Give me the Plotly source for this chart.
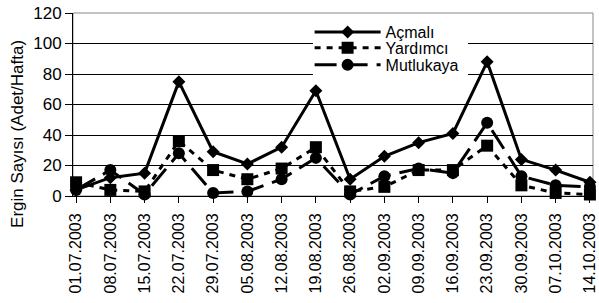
import plotly.graph_objects as go

dates = ["01.07.2003", "08.07.2003", "15.07.2003", "22.07.2003", "29.07.2003",
         "05.08.2003", "12.08.2003", "19.08.2003", "26.08.2003", "02.09.2003",
         "09.09.2003", "16.09.2003", "23.09.2003", "30.09.2003", "07.10.2003",
         "14.10.2003"]
acmali = [4, 12, 15, 75, 29, 21, 32, 69, 11, 26, 35, 41, 88, 24, 17, 9]
yardimci = [9, 4, 3, 36, 17, 11, 18, 32, 3, 6, 17, 17, 33, 7, 2, 1]
mutlukaya = [4, 17, 1, 28, 2, 3, 11, 25, 1, 13, 18, 15, 48, 13, 7, 6]
y_ticks = [0, 20, 40, 60, 80, 100, 120]
y_title = "Ergin Sayısı (Adet/Hafta)"

font = "Liberation Sans, Arial, sans-serif"
fig = go.Figure()
fig.add_trace(go.Scatter(x=dates, y=acmali, name="Açmalı", mode="lines+markers",
                         line=dict(color="black", width=3),
                         marker=dict(symbol="diamond", size=10, color="black"),
                         cliponaxis=False, legend="legend"))
fig.add_trace(go.Scatter(x=dates, y=yardimci, name="Yardımcı", mode="lines+markers",
                         line=dict(color="black", width=3, dash="6px,6px"),
                         marker=dict(symbol="square", size=12, color="black"),
                         cliponaxis=False, legend="legend2"))
fig.add_trace(go.Scatter(x=dates, y=mutlukaya, name="Mutlukaya", mode="lines+markers",
                         line=dict(color="black", width=3, dash="22px,9px"),
                         marker=dict(symbol="circle", size=12, color="black"),
                         cliponaxis=False, legend="legend3"))

leg_common = dict(x=0.455, xanchor="left", yanchor="middle",
                  bgcolor="rgba(0,0,0,0)", borderwidth=0,
                  font=dict(size=16, family=font, color="black"), itemwidth=66)

fig.update_layout(
    width=599, height=303,
    margin=dict(l=73, r=6, t=13, b=107),
    paper_bgcolor="white", plot_bgcolor="white",
    font=dict(family=font, color="black", size=16),
    showlegend=True,
    legend=dict(y=0.896, **leg_common),
    legend2=dict(y=0.809, **leg_common),
    legend3=dict(y=0.716, **leg_common),
    xaxis=dict(type="category", range=[-0.09, 15.09], automargin=False,
               showline=True, linecolor="black", linewidth=1,
               ticks="outside", ticklen=6, tickcolor="black",
               tickangle=-90, tickfont=dict(size=16, family=font),
               ticklabelstandoff=4,
               showgrid=False, zeroline=False),
    yaxis=dict(range=[0, 120], tickvals=y_ticks, automargin=False,
               showline=True, linecolor="black", linewidth=1,
               ticks="outside", ticklen=7, tickcolor="black",
               showgrid=True, gridcolor="black", gridwidth=1,
               zeroline=False, tickfont=dict(size=17, family=font)),
    shapes=[dict(type="rect", xref="paper", yref="paper", x0=0, x1=1, y0=0, y1=1,
                 line=dict(color="#888888", width=1), layer="below"),
            dict(type="rect", xref="paper", yref="paper", x0=0.4615, x1=0.7596,
                 y0=0.650, y1=0.962, fillcolor="white", line=dict(width=0),
                 layer="above")],
    annotations=[dict(text=y_title, xref="paper", yref="paper",
                      x=-0.1058, y=0.339, xanchor="center", yanchor="middle",
                      textangle=-90, showarrow=False,
                      font=dict(size=17, family=font, color="black"))],
)

fig.write_html("out.html", config={"displayModeBar": False},
               post_script="document.body.style.margin='0';document.body.style.padding='0';")
